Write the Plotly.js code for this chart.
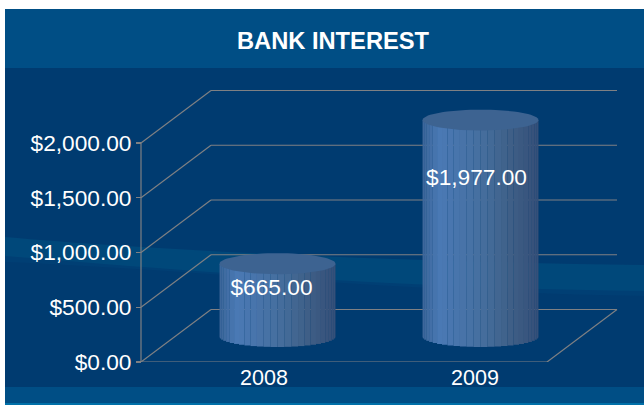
<!DOCTYPE html>
<html><head><meta charset="utf-8">
<script src="https://cdn.plot.ly/plotly-3.0.0.min.js"></script>
<style>html,body{margin:0;padding:0;background:#fff;overflow:hidden}</style>
</head><body><div id="chart" style="width:644px;height:405px"></div>
<script>
const categories = ['2008', '2009'];
const values = [665, 1977];
const yTicks = [0, 500, 1000, 1500, 2000];
const chartTitle = 'BANK INTEREST';

// Geometry constants (pixels of the 644x405 frame)
const W = 644, H = 405;
const floorY = 362, pxPerUnit = 0.1095, catStep = 203, cat0Px = 277.5;
const depthX = 70 / catStep, depthY = 52.5 / pxPerUnit;
const frontLeft = (141 - cat0Px) / catStep, frontRight = (547 - cat0Px) / catStep;
const rx = 58 / catStep, ry = 10.5 / pxPerUnit;
const baseline = 25.5 / pxPerUnit;
const labelDrop = [-1, 2 / pxPerUnit + 290];
const labelShift = [-6 / catStep, -4 / catStep];
const tickShift = [-13.5 / catStep, -5.5 / catStep];
const STRIPS = 26;

const px = v => v / W, py = v => 1 - v / floorY;
const rectP = (x0, y0, x1, y1, c) => ({type:'rect', xref:'paper', yref:'paper', layer:'below',
  x0:px(x0), x1:px(x1), y0:py(y0), y1:py(y1), fillcolor:c, line:{width:0}});
const pathP = (pts, c) => ({type:'path', xref:'paper', yref:'paper', layer:'below', fillcolor:c, line:{width:0},
  path: pts.map(p => p[0] + ' ' + p.slice(1).map((v, i) => (i % 2 ? py(v) : px(v)).toFixed(5)).join(' ')).join(' ') + ' Z'});
const gridColor = '#7f8083';
const seg = (x0, y0, x1, y1) => ({type:'line', xref:'x', yref:'y', layer:'below', x0, y0, x1, y1, line:{color:gridColor, width:1.2}});

const shapes = [
  rectP(5, 9, W, H, '#003b70'),
  pathP([['M',5,262],['C',200,270,400,292,644,296],['L',644,272],['C',400,268,200,262,5,250]], '#003f74'),
  pathP([['M',5,237],['C',150,250,400,262,644,265],['L',644,291],['C',400,288,200,272,5,256]], '#00487a'),
  rectP(5, 9, W, 68, '#004e85'),
  rectP(5, 387, W, H, '#004e85'),
  rectP(5, 403, W, H, '#0070a8')
];
yTicks.forEach(t => {
  shapes.push(seg(frontLeft, t, frontLeft + depthX, t + depthY));
  shapes.push(seg(frontLeft + depthX, t + depthY, frontRight + depthX, t + depthY));
});
shapes.push(seg(frontLeft, 0, frontLeft, yTicks[yTicks.length - 1]));
shapes.push(seg(frontLeft, 0, frontRight, 0));
shapes.push(seg(frontRight, 0, frontRight + depthX, depthY));

// cylinder side shading, from left edge to right edge
const stops = [[-1,[60,102,153]],[-0.7,[74,121,181]],[0,[70,111,159]],[0.5,[63,96,136]],[1,[53,79,120]]];
function shade(u) {
  for (let i = 1; i < stops.length; i++) if (u <= stops[i][0]) {
    const a = stops[i-1], b = stops[i], t = (u - a[0]) / (b[0] - a[0]);
    return 'rgb(' + a[1].map((c, k) => Math.round(c + (b[1][k] - c) * t)).join(',') + ')';
  }
  return 'rgb(53,79,120)';
}

const sx = [], sBase = [], sH = [], sW = [], sC = [];
const traces = [];
values.forEach((v, i) => {
  for (let s = 0; s < STRIPS; s++) {
    const a0 = Math.PI * (1 - s / STRIPS), a1 = Math.PI * (1 - (s + 1) / STRIPS);
    const u0 = Math.cos(a0), u1 = Math.cos(a1), um = (u0 + u1) / 2;
    sx.push(i + um * rx);
    sW.push((u1 - u0) * rx * 1.01);
    const b = baseline - ry * Math.sqrt(Math.max(0, 1 - um * um));
    sBase.push(b);
    sH.push(baseline + v - b);
    sC.push(shade(um));
  }
});
traces.push({type:'bar', x:sx, y:sH, base:sBase, width:sW, marker:{color:sC, line:{width:0}}, hoverinfo:'skip', showlegend:false});

values.forEach((v, i) => {
  const ex = [], ey = [];
  for (let k = 0; k <= 72; k++) {
    const a = k / 72 * 2 * Math.PI;
    ex.push(i + rx * Math.cos(a));
    ey.push(baseline + v + ry * Math.sin(a));
  }
  traces.push({type:'scatter', mode:'lines', x:ex, y:ey, fill:'toself', fillcolor:'#3d6391', line:{width:0, color:'#3d6391'}, hoverinfo:'skip', showlegend:false});
});

traces.push({type:'scatter', mode:'text',
  x: values.map((v, i) => i + labelShift[i]),
  y: values.map((v, i) => v - labelDrop[i]),
  text: values.map(v => '$' + v.toLocaleString('en-US', {minimumFractionDigits:2, maximumFractionDigits:2})),
  textposition:'middle center',
  textfont:{family:'Liberation Sans, Arial, sans-serif', size:22.7, color:'#ffffff'},
  hoverinfo:'skip', showlegend:false});

const layout = {
  width:W, height:H, autosize:false, showlegend:false,
  margin:{l:0, r:0, t:0, b:H - floorY, pad:0},
  paper_bgcolor:'#ffffff', plot_bgcolor:'rgba(0,0,0,0)',
  barmode:'overlay',
  font:{family:'Liberation Sans, Arial, sans-serif', color:'#ffffff'},
  title:{text:'<b>' + chartTitle + '</b>', x:333 / W, xanchor:'center', xref:'paper', y:1 - 41 / H, yref:'container', yanchor:'middle',
    font:{family:'Liberation Sans, Arial, sans-serif', size:23.7, color:'#ffffff'}},
  xaxis:{type:'linear', range:[-cat0Px / catStep, (W - cat0Px) / catStep], showgrid:false, zeroline:false, showline:false,
    tickmode:'array', tickvals:categories.map((c, i) => i + tickShift[i]), ticktext:categories, ticks:'', ticklen:0,
    tickfont:{size:21.5, color:'#ffffff'}, fixedrange:true},
  yaxis:{type:'linear', range:[0, floorY / pxPerUnit], showgrid:false, zeroline:false, showline:false, anchor:'free', position:141 / W,
    tickmode:'array', tickvals:yTicks, tickformat:'$,.2f', ticks:'outside', ticklen:5, tickwidth:1.2, tickcolor:gridColor,
    tickfont:{size:22.7, color:'#ffffff'}, fixedrange:true},
  shapes
};
Plotly.newPlot('chart', traces, layout, {displayModeBar:false, staticPlot:true});
</script></body></html>
